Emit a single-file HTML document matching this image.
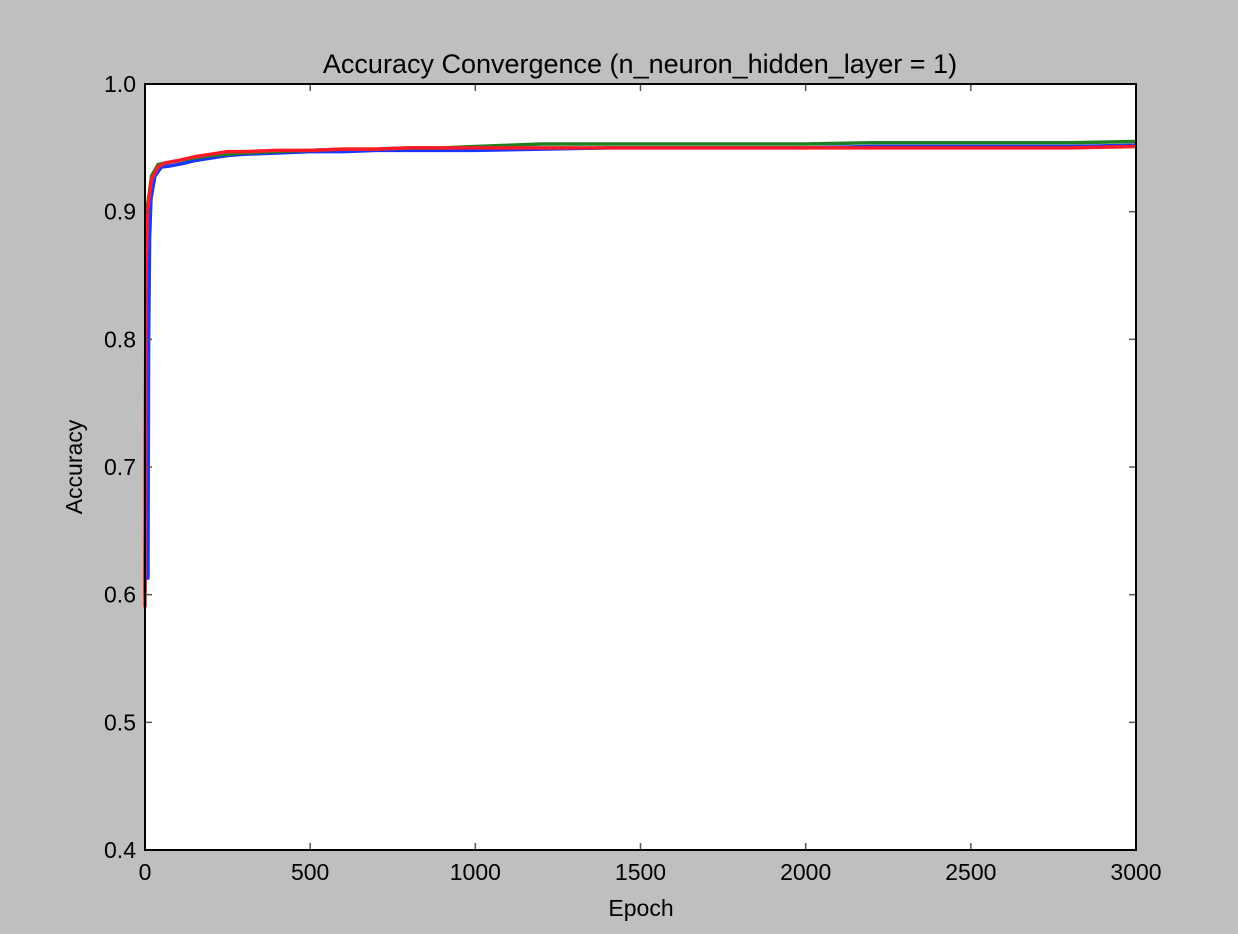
<!DOCTYPE html>
<html><head><meta charset="utf-8"><style>
body{margin:0;background:#bfbfbf;}
svg{display:block;font-family:"Liberation Sans",sans-serif;}
</style></head><body>
<svg id="chart" width="1238" height="934" viewBox="0 0 1238 934">
<rect x="0" y="0" width="1238" height="934" fill="#bfbfbf"/>
<rect x="145" y="84" width="991" height="766" fill="#ffffff"/>
<g id="series"></g>
<g id="axes"></g>
<rect x="145" y="84" width="991" height="766" fill="none" stroke="#000" stroke-width="2"/>
<text x="640" y="73" font-size="27" text-anchor="middle">Accuracy Convergence (n_neuron_hidden_layer = 1)</text>
<text x="641" y="916" font-size="23" text-anchor="middle">Epoch</text>
<text x="82" y="467" font-size="23" text-anchor="middle" transform="rotate(-90 82 467)">Accuracy</text>
</svg>
<script>
const xTicks=[0,500,1000,1500,2000,2500,3000];
const yTicks=[0.4,0.5,0.6,0.7,0.8,0.9,1.0];
const yTickLabels=["0.4","0.5","0.6","0.7","0.8","0.9","1.0"];
const blueEpochs=[0,9,11,14,18,30,50,80,120,150,200,250,300,400,500,600,700,800,900,1000,1200,1400,1600,1800,2000,2200,2400,2600,2800,3000];
const blueValues=[0.613,0.613,0.80,0.88,0.91,0.928,0.935,0.936,0.938,0.940,0.942,0.944,0.945,0.946,0.947,0.947,0.948,0.948,0.948,0.948,0.949,0.950,0.950,0.950,0.950,0.951,0.951,0.951,0.951,0.952];
const greenEpochs=[0,3,8,20,40,60,100,150,200,250,300,400,500,600,700,800,900,1000,1100,1200,1400,1600,1800,2000,2200,2400,2600,2800,3000];
const greenValues=[0.6,0.86,0.905,0.928,0.937,0.938,0.940,0.942,0.944,0.945,0.946,0.947,0.948,0.949,0.949,0.950,0.950,0.951,0.952,0.953,0.953,0.953,0.953,0.953,0.954,0.954,0.954,0.954,0.955];
const redEpochs=[0,3,8,20,40,60,100,150,200,250,300,400,500,600,700,800,900,1000,1200,1400,1600,1800,2000,2200,2400,2600,2800,3000];
const redValues=[0.59,0.85,0.90,0.925,0.935,0.938,0.940,0.943,0.945,0.947,0.947,0.948,0.948,0.949,0.949,0.950,0.950,0.950,0.950,0.950,0.950,0.950,0.950,0.950,0.950,0.950,0.950,0.951];

const NS="http://www.w3.org/2000/svg";
const X0=145,X1=1136,Y0=850,Y1=84;
function xs(v){return X0+(v-0)/(3000-0)*(X1-X0);}
function ys(v){return Y0-(v-0.4)/(1.0-0.4)*(Y0-Y1);}
const axes=document.getElementById('axes');
const series=document.getElementById('series');
function mk(tag,attrs){const e=document.createElementNS(NS,tag);for(const k in attrs)e.setAttribute(k,attrs[k]);return e;}
xTicks.forEach(t=>{
  const x=xs(t);
  const a=mk('line',{x1:x,x2:x,y1:Y0,y2:Y0-7,stroke:'#555','stroke-width':1.5});
  
  
  axes.appendChild(a);
  const b=mk('line',{x1:x,x2:x,y1:Y1,y2:Y1+7,stroke:'#555','stroke-width':1.5});
  
  
  axes.appendChild(b);
  const tx=mk('text',{x:x,y:880,'font-size':23,'text-anchor':'middle'});
  tx.textContent=String(t);
  
  
  axes.appendChild(tx);
});
yTicks.forEach((t,i)=>{
  const y=ys(t);
  const a=mk('line',{x1:X0,x2:X0+7,y1:y,y2:y,stroke:'#555','stroke-width':1.5});
  
  
  axes.appendChild(a);
  const b=mk('line',{x1:X1,x2:X1-7,y1:y,y2:y,stroke:'#555','stroke-width':1.5});
  
  
  axes.appendChild(b);
  const tx=mk('text',{x:136,y:y+8,'font-size':23,'text-anchor':'end'});
  tx.textContent=yTickLabels[i];
  
  
  axes.appendChild(tx);
});
function drawLine(ex,vals,color,name){
  const d=ex.map((e,i)=>(i?'L':'M')+xs(e).toFixed(2)+','+ys(vals[i]).toFixed(2)).join('');
  const p=mk('path',{d:d,fill:'none',stroke:color,'stroke-width':3.5,'stroke-linejoin':'round'});
  
  
  series.appendChild(p);
}
drawLine(blueEpochs,blueValues,'#1a35ff','series-blue-line');
drawLine(greenEpochs,greenValues,'#208020','series-green-line');
drawLine(redEpochs,redValues,'#ff1a2a','series-red-line');
</script>
</body></html>
